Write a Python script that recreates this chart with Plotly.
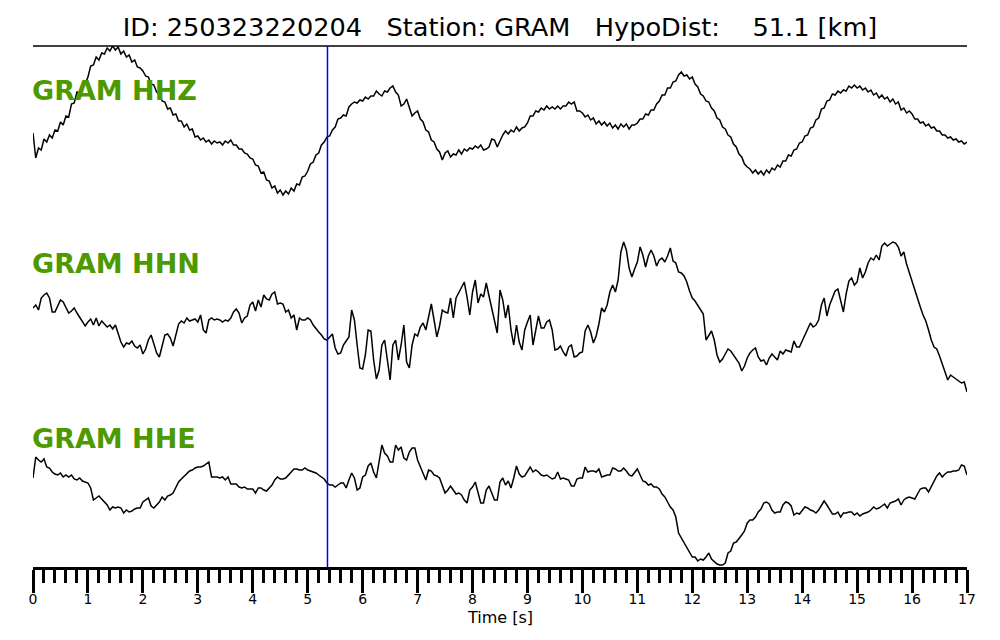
import numpy as np
import plotly.graph_objects as go

# ---------------- data (amplitudes, sample interval dt) ----
dt = 0.05  # s

hhz = [
    -12, -37, -27, -29, -18, -21, -14, -17, -9, -10, -1, -4, 5, 4, 17, 18, 29, 28, 36, 37,
    44, 55, 56, 64, 61, 68, 67, 73, 70, 75, 71, 74, 67, 70, 64, 66, 59, 61, 54, 53,
    50, 45, 44, 37, 36, 29, 27, 20, 19, 12, 13, 6, 7, 0, 0, -6, -3, -9, -8, -16,
    -15, -19, -17, -21, -19, -23, -20, -22, -21, -24, -20, -22, -19, -24, -24, -28, -28, -32, -33, -37,
    -38, -44, -45, -52, -51, -59, -60, -67, -65, -72, -69, -74, -70, -73, -67, -70, -63, -64, -56, -55,
    -50, -43, -41, -34, -32, -24, -21, -16, -15, -9, -6, 2, 3, 6, 5, 14, 17, 19, 18, 21,
    20, 24, 22, 25, 25, 30, 27, 25, 30, 29, 33, 35, 29, 26, 15, 17, 22, 14, 5, 8,
    10, 2, -1, -9, -11, -19, -21, -28, -31, -39, -32, -30, -36, -33, -34, -29, -33, -28, -30, -27,
    -28, -25, -27, -24, -29, -28, -26, -18, -19, -26, -20, -14, -10, -13, -9, -11, -6, -10, -7, -6,
    -2, 5, 5, 10, 9, 13, 11, 15, 12, 14, 12, 15, 12, 15, 15, 19, 17, 19, 10, 10,
    8, 4, 6, 1, 3, -3, 0, -4, -1, -5, -2, -7, -4, -8, -3, -6, -3, -8, -4, -4,
    -2, 2, 2, 7, 6, 11, 11, 17, 20, 26, 26, 33, 33, 39, 40, 46, 49, 45, 46, 42,
    44, 37, 34, 27, 25, 20, 19, 13, 10, 3, 1, -6, -8, -14, -16, -23, -26, -33, -36, -43,
    -46, -48, -52, -49, -53, -50, -54, -49, -52, -47, -49, -44, -46, -40, -40, -34, -35, -29, -28, -22,
    -21, -15, -14, -7, -6, 1, 3, 12, 13, 20, 21, 27, 26, 30, 28, 31, 30, 35, 33, 36,
    33, 35, 31, 33, 29, 31, 26, 28, 23, 26, 22, 24, 19, 22, 17, 19, 11, 13, 8, 10,
    7, 2, 2, -2, -1, -5, -3, -7, -6, -10, -10, -14, -14, -17, -16, -19, -18, -21, -20, -23,
    -21,
]

hhn = [
    8, 11, 6, 18, 21, 23, 18, 4, 4, 10, 16, 14, 9, 3, 5, 8, 3, -1, -5, -10,
    -6, -3, -9, -2, -10, -5, -8, -11, -9, -13, -9, -17, -26, -31, -27, -28, -25, -30, -32, -29,
    -38, -33, -24, -19, -27, -37, -41, -29, -19, -18, -22, -30, -19, -8, -5, -7, -2, -5, -4, -3,
    -6, 1, -14, -17, -4, -2, -4, -3, -4, -6, -4, -5, -2, 4, 7, 3, -7, -2, 0, 11,
    14, 5, 16, 9, 21, 17, 16, 22, 24, 12, 13, 12, 4, 6, -2, 1, -14, -2, -4, -4,
    -2, -4, -9, -13, -16, -19, -23, -24, -21, -18, -32, -38, -37, -29, -25, -21, 6, -4, -29, -52,
    -53, -39, -14, -15, -44, -63, -54, -29, -24, -42, -64, -29, -24, -44, -29, -9, -46, -52, -29, -18,
    -20, -11, -7, -14, -2, 12, -4, -21, -10, 6, 4, 3, 18, -2, 18, 23, 28, 34, 19, 1,
    24, 36, 13, 22, 19, 33, 20, 8, -4, -17, 26, 16, -2, 11, -14, -29, -9, -26, -34, -14,
    -6, 1, -29, -14, 0, -12, -12, -6, -4, -14, -34, -33, -30, -36, -40, -31, -29, -41, -40, -37,
    -36, -15, -9, -16, -27, -20, -8, 8, 4, 11, 24, 31, 24, 36, 64, 74, 66, 48, 39, 47,
    54, 69, 61, 49, 60, 66, 60, 50, 56, 58, 54, 60, 68, 55, 53, 44, 43, 40, 34, 25,
    18, 15, 11, 7, 2, -24, -20, -15, -24, -39, -46, -43, -38, -33, -35, -39, -43, -47, -55, -50,
    -42, -37, -34, -32, -41, -45, -44, -49, -42, -38, -41, -44, -35, -38, -34, -35, -36, -25, -31, -31,
    -25, -19, -13, -7, -11, -9, -4, 11, 18, 0, 11, 19, 25, 27, 15, 4, 22, 35, 38, 31,
    34, 48, 38, 44, 53, 58, 56, 61, 56, 70, 73, 70, 72, 74, 73, 69, 60, 64, 52, 43,
    34, 26, 17, 9, 1, -5, -14, -24, -31, -33, -40, -47, -56, -64, -59, -61, -63, -65, -67, -66,
    -76,
]

hhe = [
    27, 48, 45, 43, 46, 38, 37, 33, 31, 30, 32, 28, 30, 28, 30, 26, 25, 27, 24, 23,
    22, 17, 5, 7, 9, 6, 3, 0, -5, -2, -3, -2, -3, -8, -5, -7, -6, -4, -3, -3,
    3, 5, 7, -1, -3, 0, 3, 8, 5, 9, 10, 12, 18, 23, 26, 29, 32, 34, 35, 37,
    38, 38, 39, 41, 43, 28, 28, 28, 27, 28, 25, 28, 21, 21, 21, 18, 17, 18, 16, 16,
    16, 12, 17, 17, 15, 14, 17, 20, 25, 28, 26, 26, 27, 30, 34, 36, 36, 35, 35, 37,
    35, 34, 33, 32, 30, 28, 26, 22, 20, 20, 18, 20, 22, 22, 17, 25, 32, 27, 15, 17,
    28, 30, 39, 42, 33, 27, 45, 60, 52, 49, 43, 43, 60, 55, 58, 47, 45, 53, 57, 57,
    45, 38, 33, 25, 35, 34, 30, 29, 27, 19, 12, 15, 19, 15, 11, 12, 10, 5, 2, 15,
    18, 23, 12, 2, 2, 15, 19, 12, 5, 5, 23, 27, 20, 24, 17, 27, 39, 31, 28, 29,
    33, 38, 33, 35, 33, 30, 29, 30, 28, 26, 27, 33, 26, 27, 26, 25, 19, 19, 26, 27,
    27, 38, 33, 34, 34, 33, 36, 28, 29, 30, 30, 37, 36, 34, 34, 37, 34, 30, 29, 33,
    36, 30, 24, 23, 20, 21, 18, 18, 16, 11, 8, 3, -2, -5, -12, -28, -33, -37, -42, -48,
    -52, -52, -56, -54, -55, -52, -48, -54, -57, -59, -60, -60, -58, -48, -46, -38, -37, -34, -30, -26,
    -18, -15, -15, -12, -7, -4, 2, 3, 1, -5, -8, -7, -7, 0, 3, 2, -1, -10, -8, -9,
    -6, -2, -3, -5, -6, -8, -5, 0, 4, 0, -5, -9, -9, -7, -12, -8, -8, -7, -7, -10,
    -8, -11, -9, -8, -7, -5, -2, -4, -3, -1, 1, -3, 2, 3, 4, 6, 0, 5, 7, 8,
    7, 6, 11, 16, 17, 17, 13, 18, 24, 29, 32, 28, 31, 33, 33, 34, 34, 35, 40, 39,
    30,
]

channels = ["GRAM HHZ", "GRAM HHN", "GRAM HHE"]
pick_time = 5.36          # s, blue marker
x_ticks = list(range(0, 18))
title_text = ("ID: 250323220204\u00a0\u00a0\u00a0Station: GRAM\u00a0\u00a0\u00a0"
              "HypoDist:\u00a0\u00a0\u00a0\u00a051.1 [km]")

# ---------------- layout parameters ----------------
offsets = [0, -195, -384]           # vertical trace offsets (display units)
label_y = [0.9155, 0.5816, 0.2476]  # paper y of channel labels
FONT = "DejaVu Sans"
GREEN = "rgb(76,153,0)"

fig = go.Figure()
for data, off in zip([hhz, hhn, hhe], offsets):
    t = np.arange(len(data)) * dt
    fig.add_trace(go.Scatter(
        x=t, y=np.asarray(data, dtype=float) + off, mode="lines",
        line=dict(color="black", width=1.5), hoverinfo="skip", showlegend=False))

for name, ly in zip(channels, label_y):
    fig.add_annotation(text=f"<b>{name}</b>", x=0, xref="paper", xanchor="left",
                       xshift=-3, y=ly, yref="paper", yanchor="middle", showarrow=False,
                       font=dict(family=FONT, size=27, color=GREEN))

fig.add_annotation(text="Time [s]", x=0.5, xref="paper", xanchor="center",
                   y=-0.096, yref="paper", yanchor="middle", showarrow=False,
                   font=dict(family=FONT, size=16, color="black"))

fig.add_shape(type="line", xref="paper", yref="paper", x0=0, x1=1, y0=1, y1=1,
              line=dict(color="black", width=1.5))
fig.add_shape(type="line", xref="x", yref="paper", x0=pick_time, x1=pick_time,
              y0=0, y1=1, line=dict(color="blue", width=1.5), layer="above")

fig.update_layout(
    width=1000, height=640,
    margin=dict(l=33, r=33, t=46, b=73),
    paper_bgcolor="white", plot_bgcolor="white",
    title=dict(text=title_text, x=0.5, xanchor="center", y=1 - 27 / 640,
               yanchor="middle", font=dict(family=FONT, size=25.6, color="black")),
    xaxis=dict(range=[0, 17], showgrid=False, zeroline=False,
               showline=True, linecolor="black", linewidth=2.5,
               ticks="outside", ticklen=23, tickwidth=2.5, tickcolor="black",
               tickvals=x_ticks, ticktext=[str(v) for v in x_ticks],
               ticklabelstandoff=-6,
               tickfont=dict(family=FONT, size=14, color="black"),
               minor=dict(dtick=0.2, tick0=0, ticks="outside", ticklen=13,
                          tickwidth=2.5, tickcolor="black", showgrid=False)),
    yaxis=dict(range=[-446, 75], visible=False, showgrid=False, zeroline=False),
)

fig.write_html("out.html", config={"displayModeBar": False},
               post_script="document.body.style.margin='0';document.body.style.overflow='hidden';")
